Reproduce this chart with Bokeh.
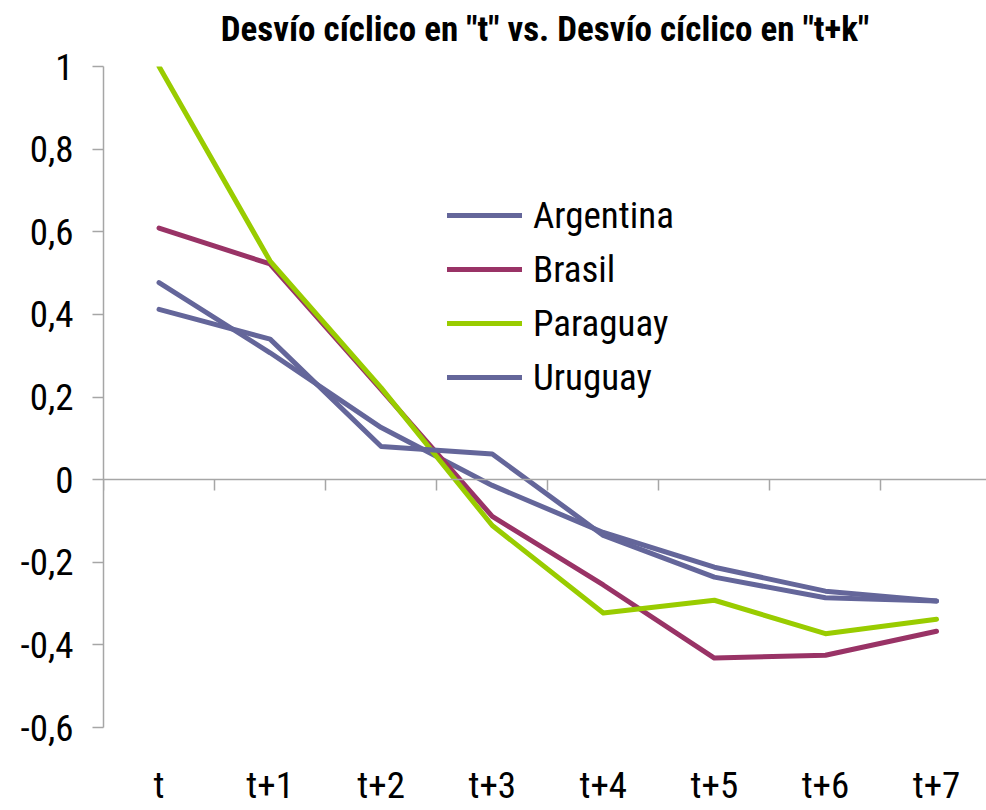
from bokeh.plotting import figure
from bokeh.models import (Range1d, FixedTicker, LinearAxis, Legend, LegendItem, Title)
from bokeh.embed import file_html
from bokeh.resources import INLINE

categories = ["t", "t+1", "t+2", "t+3", "t+4", "t+5", "t+6", "t+7"]
argentina = [0.477, 0.307, 0.126, -0.014, -0.128, -0.212, -0.270, -0.294]
brasil = [0.609, 0.522, 0.218, -0.089, -0.255, -0.432, -0.425, -0.367]
paraguay = [1.0, 0.529, 0.222, -0.111, -0.323, -0.292, -0.373, -0.338]
uruguay = [0.412, 0.340, 0.080, 0.062, -0.135, -0.236, -0.286, -0.294]
y_ticks = [-0.6, -0.4, -0.2, 0.0, 0.2, 0.4, 0.6, 0.8, 1.0]

series = [("Argentina", argentina, "#64669A"),
          ("Brasil", brasil, "#993366"),
          ("Paraguay", paraguay, "#99CC00"),
          ("Uruguay", uruguay, "#64669A")]

FONT = "Roboto Condensed"
xs = list(range(len(categories)))

p = figure(width=986, height=810, output_backend="svg", toolbar_location=None,
           x_range=Range1d(-0.5, 7.45), y_range=Range1d(-0.6, 1.0),
           min_border_left=103, min_border_right=0, min_border_top=66, min_border_bottom=83,
           x_axis_location="below")
p.outline_line_color = None
p.grid.visible = False

spacer = Title(text=" ", text_font_size="9px", standoff=0)
p.add_layout(spacer, "above")
t = Title(text='Desvío cíclico en "t" vs. Desvío cíclico en "t+k"', align="center",
          text_font=FONT, text_font_style="bold", text_font_size="35px",
          text_color="#000000", standoff=10, offset=-19)
p.add_layout(t, "above")

# y axis
ya = p.yaxis[0]
ya.ticker = FixedTicker(ticks=y_ticks)
ya.major_label_overrides = {v: (("%g" % v).replace(".", ",")) for v in y_ticks}
ya.major_label_overrides[0.0] = "0"
ya.major_label_text_font = FONT
ya.major_label_text_font_size = "37px"
ya.major_label_text_color = "#000000"
ya.axis_line_color = "#A6A6A6"
ya.axis_line_width = 1.5
ya.major_tick_line_color = "#A6A6A6"
ya.major_tick_line_width = 1.5
ya.major_tick_out = 11
ya.major_tick_in = 0
ya.minor_tick_out = 0
ya.minor_tick_in = 0
ya.major_label_standoff = 19

# bottom labels axis
xa = p.xaxis[0]
xa.ticker = FixedTicker(ticks=xs)
xa.major_label_overrides = {i: c for i, c in enumerate(categories)}
xa.major_label_text_font = FONT
xa.major_label_text_font_size = "37px"
xa.major_label_text_color = "#000000"
xa.axis_line_alpha = 0
xa.major_tick_out = 0
xa.major_tick_in = 0
xa.minor_tick_out = 0
xa.minor_tick_in = 0
xa.major_label_standoff = 36

# zero line axis with ticks between categories
bounds = [i - 0.5 for i in range(len(categories) + 1)]
za = LinearAxis(fixed_location=0, ticker=FixedTicker(ticks=bounds),
                major_label_text_font_size="0px", major_label_text_alpha=0,
                axis_line_color="#A6A6A6", axis_line_width=1.5,
                major_tick_line_color="#A6A6A6", major_tick_line_width=1.5,
                major_tick_out=11, major_tick_in=0, minor_tick_out=0, minor_tick_in=0)
p.add_layout(za, "below")

items = []
for name, vals, col in series:
    r = p.line(xs, vals, line_color=col, line_width=5, line_join="round", line_cap="round")
    items.append(LegendItem(label=name, renderers=[r]))

leg = Legend(items=items, location=(344, 323), padding=0, margin=0,
             label_standoff=11, glyph_width=75, glyph_height=54, label_height=54,
             spacing=0, border_line_alpha=0, background_fill_alpha=0,
             label_text_font=FONT, label_text_font_size="37px", label_text_color="#000000")
p.add_layout(leg, "center")

open("out.html", "w").write(file_html(p, INLINE))
